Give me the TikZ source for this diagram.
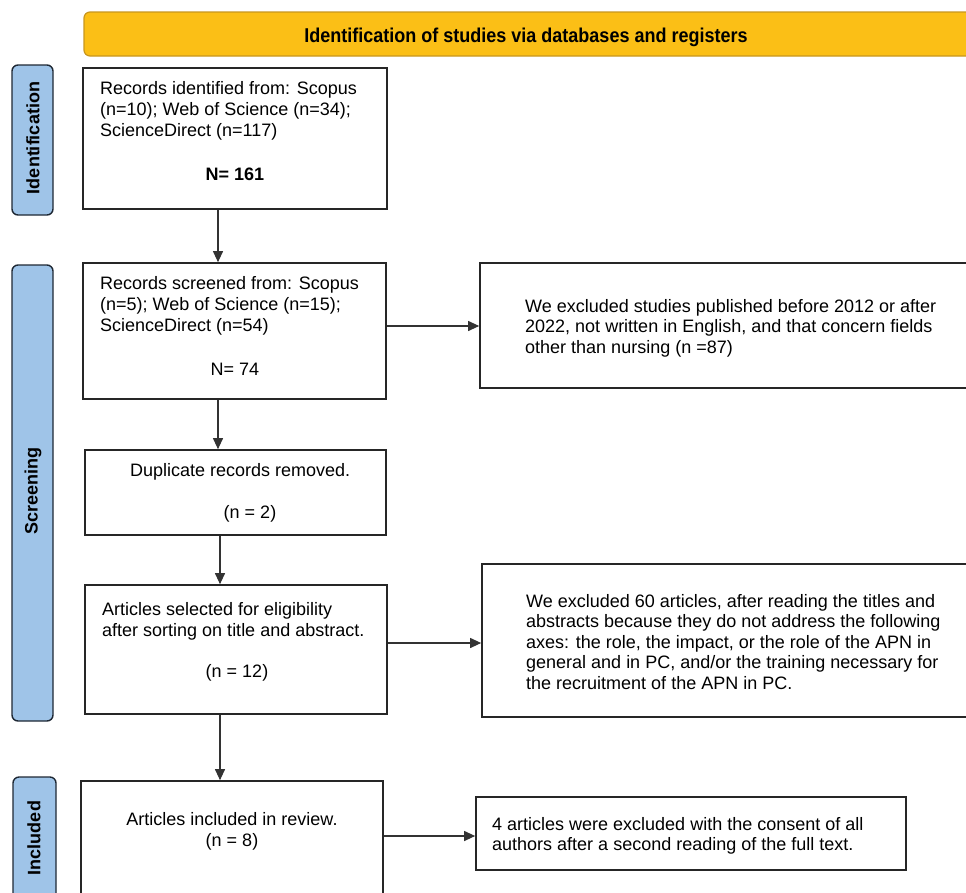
\documentclass[tikz,border=0pt]{standalone}
\usepackage{fontspec}
\setmainfont{Liberation Sans}
\newfontfamily\bannerfont[FakeStretch=0.9]{Liberation Sans}
\usetikzlibrary{arrows.meta}
\definecolor{banneryellow}{RGB}{251,191,22}
\definecolor{bannerborder}{RGB}{200,150,30}
\definecolor{labelblue}{RGB}{159,196,232}
\definecolor{labelborder}{RGB}{30,40,52}
\newcommand\bodyfont{\fontsize{18}{21}\selectfont}
\newcommand\linesL[2]{\parbox[t]{#1}{\raggedright\bodyfont #2}}
\newcommand\linesR[2]{\parbox[t]{#1}{\raggedright\fontsize{18}{20.6}\selectfont #2}}
\newcommand\linesC[2]{\parbox[t]{#1}{\centering\bodyfont #2}}
\begin{document}
\begin{tikzpicture}[x=1pt,y=-1pt,
  stepbox/.style={draw=black!85,line width=1.7pt,rectangle,inner sep=0pt},
  sidelabel/.style={draw=labelborder,fill=labelblue,line width=1.4pt,rounded corners=6pt},
  sidetext/.style={rotate=90,font=\fontsize{18}{20}\selectfont\bfseries,inner sep=0pt},
  txt/.style={anchor=base west,inner sep=0pt},
  ctxt/.style={anchor=base,inner sep=0pt},
  arr/.style={draw=black!80,line width=1.1pt,-{Triangle[length=11pt,width=10pt]}}]
\useasboundingbox (0,0) rectangle (966,892);

% banner
\path[draw=bannerborder,fill=banneryellow,line width=1.2pt,rounded corners=6pt] (84,12) rectangle (990,56);
\node[ctxt,font=\bannerfont\fontsize{20}{22}\selectfont\bfseries] (banner) at (526,42) {Identification of studies via databases and registers};

% side labels
\path[sidelabel] (12,65) rectangle (53,215);
\node[sidetext] (lid) at (33,138) {Identification};
\path[sidelabel] (12,265) rectangle (53,721);
\node[sidetext] (lsc) at (33,491) {Screening};
\path[sidelabel] (13,777) rectangle (56,910);
\node[sidetext] (lin) at (34,838) {Included};

% boxes
\path (83,68) rectangle (387,209) node[stepbox,pos=.5,minimum width=304pt,minimum height=141pt] (box1) {};
\path (83,263) rectangle (386,399) node[stepbox,pos=.5,minimum width=303pt,minimum height=136pt] (box2) {};
\path (85,450) rectangle (386,535) node[stepbox,pos=.5,minimum width=301pt,minimum height=85pt] (box3) {};
\path (85,585) rectangle (387,714) node[stepbox,pos=.5,minimum width=302pt,minimum height=129pt] (box4) {};
\path (81,781) rectangle (383,920) node[stepbox,pos=.5,minimum width=302pt,minimum height=139pt] (box5) {};
\path (480,263) rectangle (990,388) node[stepbox,pos=.5,minimum width=510pt,minimum height=125pt] (ex1) {};
\path (482,564) rectangle (990,717) node[stepbox,pos=.5,minimum width=508pt,minimum height=153pt] (ex2) {};
\path (476,797) rectangle (906,870) node[stepbox,pos=.5,minimum width=430pt,minimum height=73pt] (ex3) {};

% texts
\node[txt] (t1) at (100,94) {\linesL{290pt}{Records identified from: Scopus\\(n=10); Web of Science (n=34);\\ScienceDirect (n=117)}};
\node[ctxt,font=\bodyfont\bfseries] (n1) at (235,180) {N= 161};
\node[txt] (t2) at (100,289) {\linesL{290pt}{Records screened from: Scopus\\(n=5); Web of Science (n=15);\\ScienceDirect (n=54)}};
\node[ctxt,font=\bodyfont] (n2) at (235,375) {N= 74};
\node[txt] (t3) at (130,476) {\linesL{250pt}{Duplicate records removed.}};
\node[ctxt,font=\bodyfont] (n3) at (250,518) {(n = 2)};
\node[txt] (t4) at (102,615) {\linesL{285pt}{Articles selected for eligibility\\after sorting on title and abstract.}};
\node[ctxt,font=\bodyfont] (n4) at (237,677) {(n = 12)};
\node[ctxt] (t5) at (232,825) {\linesC{280pt}{Articles included in review.\\(n = 8)}};
\node[txt] (te1) at (525,312) {\linesR{430pt}{We excluded studies published before 2012 or after\\2022, not written in English, and that concern fields\\other than nursing (n =87)}};
\node[txt] (te2) at (526,607) {\linesR{430pt}{We excluded 60 articles, after reading the titles and\\abstracts because they do not address the following\\axes: the role, the impact, or the role of the APN in\\general and in PC, and/or the training necessary for\\the recruitment of the APN in PC.}};
\node[txt] (te3) at (492,830) {\linesR{410pt}{4 articles were excluded with the consent of all\\authors after a second reading of the full text.}};

% connectors
\coordinate (ax) at (218,0);
\coordinate (bx) at (220,0);
\coordinate (r1) at (0,326);
\coordinate (r2) at (0,643);
\coordinate (r3) at (0,836);
\draw[arr] (box1.south -| ax) -- (box2.north -| ax);
\draw[arr] (box2.south -| ax) -- (box3.north -| ax);
\draw[arr] (box3.south -| bx) -- (box4.north -| bx);
\draw[arr] (box4.south -| bx) -- (box5.north -| bx);
\draw[arr] (box2.east |- r1) -- (ex1.west |- r1);
\draw[arr] (box4.east |- r2) -- (ex2.west |- r2);
\draw[arr] (box5.east |- r3) -- (ex3.west |- r3);
\end{tikzpicture}
\end{document}
